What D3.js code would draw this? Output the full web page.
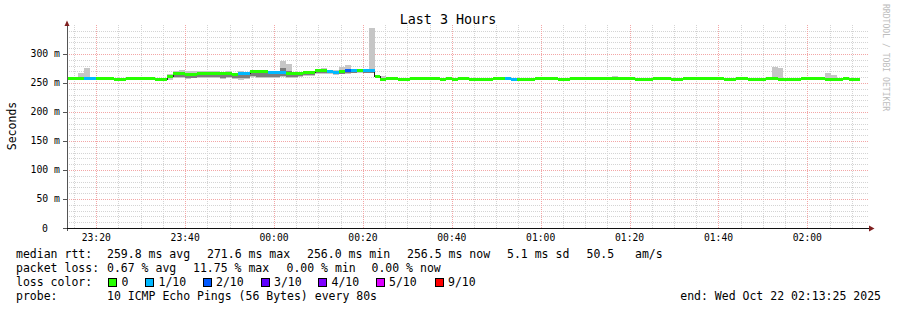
<!DOCTYPE html>
<meta charset='utf-8'>

<style>
  body { margin: 0; background: #fff; }
  svg text { font-family: "DejaVu Sans Mono", monospace; fill: #000; }
  .grid-minor { stroke: #d4d4d4; stroke-dasharray: 1,1; }
  .grid-major { stroke: #f3a6a6; stroke-dasharray: 1,1; }
  .crisp { shape-rendering: crispEdges; }
</style>

<svg width="897" height="310"></svg>

<script src="https://d3js.org/d3.v7.min.js"></script>

<script>

// ---- data ----
var axisStart = new Date(2025, 9, 21, 23, 13, 25),
    axisEnd = new Date(2025, 9, 22, 2, 13, 25),
    dataStart = new Date(2025, 9, 21, 23, 13, 17),
    stepSec = 80,
    stepCount = 134;

// median rtt (ms) as runs: first step of each run, value, lost pings out of 10
var runStart  = [0, 3, 5, 8, 10, 15, 17, 18, 20, 22, 25, 28, 29, 31, 34, 37, 38, 40, 42, 44, 45, 46, 47, 48, 49, 50, 52, 53, 54,
                 56, 58, 63, 64, 65, 66, 68, 72, 74, 75, 76, 79, 83, 85, 96, 99, 102, 104, 111, 113, 115, 118, 120, 123, 124,
                 128, 131, 132];
var runMedian = [257.5, 257.5, 257.5, 255.8, 257.5, 255.8, 262, 266.5, 264.5, 267, 266.5, 265, 265.5, 269, 267.5, 267, 266, 268,
                 272, 269.5, 268, 269.5, 271, 271, 271, 271, 262, 256, 257.5,
                 255.8, 257.5, 255.8, 257.5, 255.8, 257.5, 255.8, 257.5, 257.5, 255.8, 255.8, 257.5, 255.8, 257.5, 255.8, 257.5,
                 255.8, 257.5, 255.8, 257.5, 255.8, 257.5, 255.8, 256.5, 257.5, 255.8, 257.5, 255.8];
var runLoss   = [0, 1, 0, 0, 0, 0, 0, 0, 0, 0, 0, 0, 1, 0, 1, 0, 0, 0, 0, 1, 1, 0, 2, 1, 0, 1, 0, 0, 0,
                 0, 0, 0, 0, 0, 0, 0, 0, 1, 1, 0, 0, 0, 0, 0, 0, 0, 0, 0, 0, 0, 0, 0, 0, 0, 0, 0, 0];

// smoke (spread of the 10 pings, ms) where it shows
var smokeStep = [2, 3, 10, 17, 18, 19, 20, 21, 22, 23, 24, 25, 26, 27, 28, 29, 30, 31, 32, 33, 34, 35, 36, 37, 38, 39, 40,
                 41, 42, 43, 44, 45, 46, 47, 48, 49, 50, 51, 52, 53, 92, 93, 119, 120, 128, 129];
var smokeMin  = [257, 257, 257, 256, 259, 258, 257, 258, 259, 258, 259, 258, 257, 258, 257, 256, 257, 260, 259, 258, 258, 259, 260,
                 259, 259, 260, 262, 262, 265, 266, 265, 264, 265, 266, 267, 268, 267, 267, 258, 255, 257, 257, 257, 257, 257, 257];
var smokeLo   = [257, 257, 257, 258, 261, 260, 259, 259, 261, 260, 261, 260, 259, 261, 259, 258, 259, 262, 261, 260, 260, 261, 262,
                 261, 261, 262, 263, 264, 267, 268, 267, 265, 266, 267, 268, 269, 268, 268, 260, 256, 257, 257, 257, 257, 257, 257];
var smokeHi   = [258, 258, 258, 263, 268, 268, 267, 266, 268, 268, 269, 268, 267, 268, 266, 267, 266, 270, 270, 269, 268, 268, 276,
                 270, 267, 267, 269, 269, 273, 273, 271, 270, 271, 274, 272, 272, 272, 273, 263, 259, 258, 258, 258, 258, 258, 258];
var smokeMax  = [267, 276, 260, 265, 271, 272, 271, 270, 270, 271, 271, 270, 269, 270, 268, 270, 268, 272, 271, 271, 270, 271, 288,
                 283, 269, 269, 270, 271, 274, 275, 272, 272, 277, 281, 273, 273, 273, 345, 264, 262, 262, 261, 278, 275, 268, 264];

var yTicks = [0, 50, 100, 150, 200, 250, 300];

var lossNames  = ["0", "1/10", "2/10", "3/10", "4/10", "5/10", "9/10"];
var lossCounts = [0, 1, 2, 3, 4, 5, 9];
var lossColors = ["#26ff00", "#00b8ff", "#0059ff", "#5e00ff", "#7e00ff", "#dd00ff", "#ff0000"];

var rttLegend  = ["259.8 ms avg", "271.6 ms max", "256.0 ms min", "256.5 ms now", "5.1 ms sd", "50.5", "am/s"];
var lossLegend = ["0.67 % avg", "11.75 % max", "0.00 % min", "0.00 % now"];
var probeText  = "10 ICMP Echo Pings (56 Bytes) every 80s";
var endText    = "end: Wed Oct 22 02:13:25 2025";

// ---- layout ----
var svg = d3.select("svg");
var pLeft = 67, pRight = 867, pTop = 28, pBottom = 228;

var x = d3.scaleTime().domain([axisStart, axisEnd]).range([pLeft, pRight]);
var y = d3.scaleLinear().domain([0, 344.8]).range([pBottom, pTop]);

function stepTime(k) { return new Date(dataStart.getTime() + k * stepSec * 1000); }

// expand runs into steps
var steps = [];
var r = 0;
for (var k = 0; k < stepCount; k++) {
  while (r + 1 < runStart.length && runStart[r + 1] <= k) r++;
  steps.push({ k: k, v: runMedian[r], loss: runLoss[r] });
}

svg.append("defs").append("clipPath").attr("id", "plot")
  .append("rect").attr("x", pLeft).attr("y", pTop - 2).attr("width", pRight - pLeft).attr("height", pBottom - pTop + 2);

// grid
var grid = svg.append("g").attr("class", "crisp");

var minorY = d3.range(10, 341, 10).filter(function(v) { return v % 50 != 0; });
grid.selectAll(".hmin").data(minorY).enter().append("line")
  .attr("class", "grid-minor")
  .attr("x1", pLeft).attr("x2", pRight + 2)
  .attr("y1", function(d) { return Math.round(y(d)) + 0.5; })
  .attr("y2", function(d) { return Math.round(y(d)) + 0.5; });

var minorX = d3.timeMinute.every(5).range(axisStart, axisEnd).filter(function(t) { return t.getMinutes() % 20 != 0; });
grid.selectAll(".vmin").data(minorX).enter().append("line")
  .attr("class", "grid-minor")
  .attr("y1", pTop - 3).attr("y2", pBottom)
  .attr("x1", function(d) { return Math.round(x(d)) + 0.5; })
  .attr("x2", function(d) { return Math.round(x(d)) + 0.5; });

grid.selectAll(".hmaj").data(yTicks.slice(1)).enter().append("line")
  .attr("class", "grid-major")
  .attr("x1", pLeft).attr("x2", pRight + 2)
  .attr("y1", function(d) { return Math.round(y(d)) + 0.5; })
  .attr("y2", function(d) { return Math.round(y(d)) + 0.5; });

var majorX = d3.timeMinute.every(20).range(axisStart, axisEnd);
grid.selectAll(".vmaj").data(majorX).enter().append("line")
  .attr("class", "grid-major")
  .attr("y1", pTop - 3).attr("y2", pBottom)
  .attr("x1", function(d) { return Math.round(x(d)) + 0.5; })
  .attr("x2", function(d) { return Math.round(x(d)) + 0.5; });

// data layer
var g = svg.append("g").attr("clip-path", "url(#plot)");

var smoke = smokeStep.map(function(s, i) {
  return { k: s, min: smokeMin[i], lo: smokeLo[i], hi: smokeHi[i], max: smokeMax[i] };
});

g.selectAll(".smoke-out").data(smoke).enter().append("rect")
  .attr("class", "crisp")
  .attr("x", function(d) { return x(stepTime(d.k)); })
  .attr("width", function(d) { return x(stepTime(d.k + 1)) - x(stepTime(d.k)); })
  .attr("y", function(d) { return y(d.max); })
  .attr("height", function(d) { return y(d.min) - y(d.max); })
  .attr("fill", "#c6c6c6");

g.selectAll(".smoke-in").data(smoke).enter().append("rect")
  .attr("class", "crisp")
  .attr("x", function(d) { return x(stepTime(d.k)); })
  .attr("width", function(d) { return x(stepTime(d.k + 1)) - x(stepTime(d.k)); })
  .attr("y", function(d) { return y(d.hi); })
  .attr("height", function(d) { return y(d.lo) - y(d.hi); })
  .attr("fill", "#7c7c7c");

// median step line
var linePts = steps.map(function(d) { return { t: stepTime(d.k), v: d.v }; });
linePts.push({ t: stepTime(stepCount), v: steps[stepCount - 1].v });

g.append("path")
  .datum(linePts)
  .attr("class", "crisp")
  .attr("fill", "none")
  .attr("stroke", "#202020")
  .attr("stroke-width", 1)
  .attr("d", d3.line().x(function(d) { return x(d.t); }).y(function(d) { return y(d.v); }).curve(d3.curveStepAfter));

// loss-colored median band
g.selectAll(".med").data(steps).enter().append("rect")
  .attr("class", "crisp")
  .attr("x", function(d) { return x(stepTime(d.k)); })
  .attr("width", function(d) { return x(stepTime(d.k + 1)) - x(stepTime(d.k)); })
  .attr("y", function(d) { return y(d.v) - 1.5; })
  .attr("height", 3)
  .attr("fill", function(d) { return lossColors[lossCounts.indexOf(d.loss)]; });

// axes
var axes = svg.append("g").attr("class", "crisp");

axes.append("line").attr("x1", pLeft + 0.5).attr("x2", pLeft + 0.5).attr("y1", pBottom + 3).attr("y2", pTop - 4)
  .attr("stroke", "#555");
axes.append("line").attr("x1", pLeft - 4).attr("x2", pRight + 3).attr("y1", pBottom + 0.5).attr("y2", pBottom + 0.5)
  .attr("stroke", "#111");

axes.selectAll(".ytick").data(yTicks).enter().append("line")
  .attr("x1", pLeft - 4).attr("x2", pLeft)
  .attr("y1", function(d) { return Math.round(y(d)) + 0.5; })
  .attr("y2", function(d) { return Math.round(y(d)) + 0.5; })
  .attr("stroke", "#555");

svg.append("path").attr("d", "M64.5,26L69.5,26L67,20.5Z").attr("fill", "#7f1f1f");
svg.append("path").attr("d", "M869,225.5L869,231.5L874.5,228.5Z").attr("fill", "#7f1f1f");

svg.append("g").selectAll("text").data(yTicks).enter().append("text")
  .attr("x", function(d) { return d == 0 ? 48 : 60; })
  .attr("y", function(d) { return y(d) + 3.5; })
  .attr("text-anchor", "end")
  .style("font-size", "9.8px")
  .text(function(d) { return d == 0 ? "0" : d + " m"; });

svg.append("g").selectAll("text").data(majorX).enter().append("text")
  .attr("x", function(d) { return x(d); })
  .attr("y", 241)
  .attr("text-anchor", "middle")
  .style("font-size", "9.7px")
  .text(d3.timeFormat("%H:%M"));

// titles
svg.append("text").attr("x", 448).attr("y", 24).attr("text-anchor", "middle")
  .style("font-size", "13.4px").text("Last 3 Hours");

svg.append("text").attr("transform", "translate(16,126) rotate(-90)").attr("text-anchor", "middle")
  .style("font-size", "11.5px").text("Seconds");

svg.append("text").attr("transform", "translate(883,4) rotate(90)")
  .style("font-size", "8.1px").style("fill", "#bdbdbd").text("RRDTOOL / TOBI OETIKER");

// legend
var legend = svg.append("g").style("font-size", "11.5px");
var rowY = [257.5, 271.5, 285.7, 300];

legend.append("text").attr("x", 16).attr("y", rowY[0]).text("median rtt:");
var rttX = [107, 207, 307, 407, 507, 586.5, 635];
legend.selectAll(".rtt").data(rttLegend).enter().append("text")
  .attr("x", function(d, i) { return rttX[i]; }).attr("y", rowY[0]).text(function(d) { return d; });

legend.append("text").attr("x", 16).attr("y", rowY[1]).text("packet loss:");
var lossX = [107, 193, 286.5, 371.5];
legend.selectAll(".pl").data(lossLegend).enter().append("text")
  .attr("x", function(d, i) { return lossX[i]; }).attr("y", rowY[1]).text(function(d) { return d; });

legend.append("text").attr("x", 16).attr("y", rowY[2]).text("loss color:");
var swX = [108.5, 145.5, 203, 261, 318.5, 376, 435];
legend.selectAll(".sw").data(lossColors).enter().append("rect")
  .attr("class", "crisp")
  .attr("x", function(d, i) { return swX[i]; }).attr("y", 278.5)
  .attr("width", 8).attr("height", 8)
  .attr("fill", function(d) { return d; })
  .attr("stroke", "#000");
legend.selectAll(".swl").data(lossNames).enter().append("text")
  .attr("x", function(d, i) { return swX[i] + 13; }).attr("y", rowY[2]).text(function(d) { return d; });

legend.append("text").attr("x", 16).attr("y", rowY[3]).text("probe:");
legend.append("text").attr("x", 107).attr("y", rowY[3]).text(probeText);
legend.append("text").attr("x", 881).attr("y", rowY[3]).attr("text-anchor", "end").text(endText);

</script>
